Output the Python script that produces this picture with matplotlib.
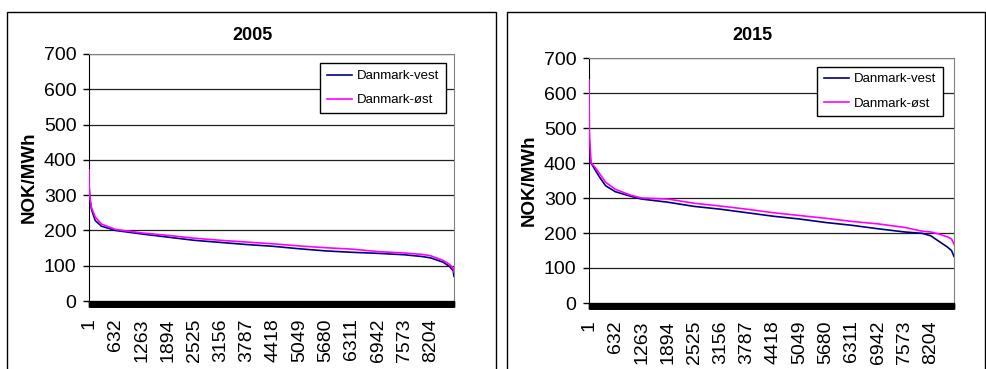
import matplotlib.pyplot as plt
from matplotlib.patches import Rectangle
from matplotlib.ticker import FixedLocator

# varighetskurver, timer sortert etter pris (NOK/MWh)
hours_2005 = [1, 5, 20, 60, 150, 300, 632, 1263, 1894, 2525, 3156, 3787, 4418,
              5049, 5680, 6311, 6942, 7573, 8000, 8204, 8500, 8650, 8740, 8760]
vest_2005 = [365, 320, 290, 260, 228, 212, 200, 190, 181, 172, 166, 160, 155,
             148, 142, 138, 135, 131, 126, 122, 110, 98, 86, 70]
ost_2005 = [372, 330, 295, 265, 238, 218, 203, 193, 186, 178, 172, 167, 162,
            156, 151, 147, 140, 136, 132, 128, 115, 104, 93, 82]

hours_2015 = [1, 10, 50, 150, 264, 400, 632, 1000, 1263, 1894, 2525, 3156, 3787,
              4418, 5049, 5680, 6311, 6942, 7573, 8000, 8204, 8400, 8600, 8700, 8760]
vest_2015 = [505, 425, 400, 380, 358, 335, 318, 305, 297, 288, 276, 268, 258,
             248, 240, 230, 222, 212, 203, 199, 192, 176, 160, 150, 133]
ost_2015 = [637, 490, 400, 387, 368, 345, 325, 308, 300, 297, 285, 277, 268,
            258, 250, 242, 233, 226, 216, 205, 203, 197, 189, 183, 168]

tick_hours = list(range(1, 8761, 631))
y_ticks = [0, 100, 200, 300, 400, 500, 600, 700]
series_names = ['Danmark-vest', 'Danmark-øst']

plt.rcParams['font.family'] = ['Liberation Sans', 'DejaVu Sans']

fig = plt.figure(figsize=(9.86, 3.69), dpi=100)

# rammer rundt hvert diagram
for x0, x1 in [(7, 496), (507, 985)]:
    fig.patches.append(Rectangle((x0 / 986, -0.1), (x1 - x0) / 986, 1 - 12 / 369 + 0.1,
                                 transform=fig.transFigure, fill=False,
                                 edgecolor='black', linewidth=1))

panels = [
    ('2005', hours_2005, vest_2005, ost_2005, [89 / 986, 1 - 301 / 369, 365 / 986, 247 / 369], 252,
     (0.978, 0.962)),
    ('2015', hours_2015, vest_2015, ost_2015, [589 / 986, 1 - 303 / 369, 365 / 986, 245 / 369], 752,
     (0.970, 0.965)),
]

for title, hours, vest, ost, rect, title_x, leg_anchor in panels:
    ax = fig.add_axes(rect)
    ax.plot(hours, vest, color='#000080', linewidth=1.2, label=series_names[0], zorder=3)
    ax.plot(hours, ost, color='#FF00FF', linewidth=1.2, label=series_names[1], zorder=3)

    ax.set_xlim(1, 8760)
    ax.set_ylim(0, 700)
    ax.set_yticks(y_ticks)
    ax.yaxis.grid(True, color='#202020', linewidth=0.9)
    ax.set_axisbelow(True)

    ax.xaxis.set_major_locator(FixedLocator(tick_hours))
    ax.set_xticklabels([str(h) for h in tick_hours], rotation=90, fontsize=14)
    # en tick per kategori gir det svarte feltet under aksen
    ax.xaxis.set_minor_locator(FixedLocator(list(range(1, 8761, 6))))
    ax.tick_params(axis='x', which='both', direction='out', length=4.5, width=1,
                   color='black', pad=8)
    ax.tick_params(axis='y', direction='out', length=4, width=1, labelsize=14, pad=5)

    ax.spines['top'].set_color('#808080')
    ax.spines['right'].set_color('#808080')
    ax.spines['left'].set_color('black')
    ax.spines['bottom'].set_color('black')

    ax.set_ylabel('NOK/MWh', fontsize=13.5, fontweight='bold')
    ax.yaxis.set_label_coords(-0.14, 0.5)

    fig.text(title_x / 986, 1 - 36 / 369, title, ha='center', va='center',
             fontsize=13, fontweight='bold')

    leg = ax.legend(loc='upper right', bbox_to_anchor=leg_anchor, frameon=True,
                    fancybox=False, edgecolor='black', framealpha=1,
                    prop={'size': 9.5},
                    handlelength=1.9, handletextpad=0.4, borderpad=0.5,
                    labelspacing=0.9, borderaxespad=0)
    leg.get_frame().set_linewidth(1)

fig.savefig('out.png', dpi=100)
